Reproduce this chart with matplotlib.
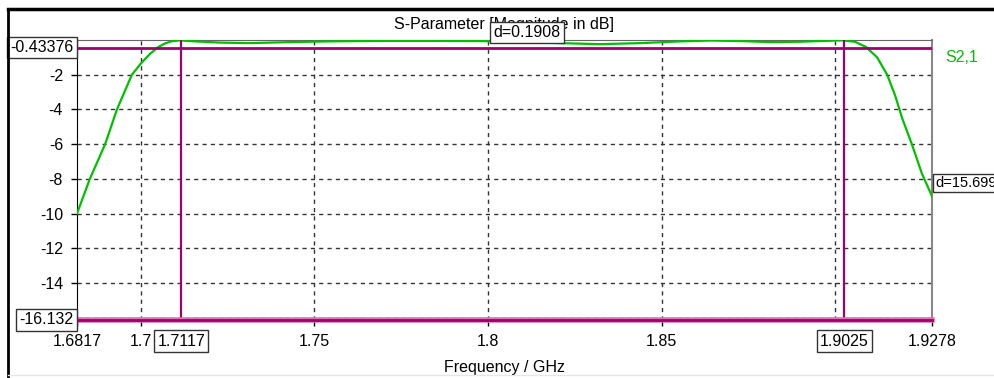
import matplotlib
matplotlib.use("Agg")
import matplotlib.pyplot as plt
from matplotlib.lines import Line2D

# S2,1 magnitude trace (GHz, dB)
freq = [1.6817, 1.6854, 1.6898, 1.6932, 1.6975, 1.7001, 1.7027, 1.7050, 1.7070,
        1.7090, 1.7113, 1.7157, 1.7229, 1.7315, 1.7430, 1.7545, 1.7690, 1.7833,
        1.7977, 1.8092, 1.8207, 1.8322, 1.8438, 1.8553, 1.8640, 1.8725, 1.8812,
        1.8898, 1.8970, 1.9020, 1.9056, 1.9088, 1.9120, 1.9149, 1.9172, 1.9192,
        1.9220, 1.9249, 1.9278]
s21 = [-10.0, -8.0, -6.0, -4.0, -2.0, -1.35, -0.80, -0.42, -0.20,
       -0.07, -0.02, -0.08, -0.15, -0.18, -0.12, -0.08, -0.05, -0.05,
       -0.06, -0.12, -0.18, -0.24, -0.18, -0.08, -0.03, -0.06, -0.12,
       -0.10, -0.05, -0.02, -0.10, -0.40, -1.00, -2.00, -3.20, -4.50,
       -6.00, -7.70, -9.00]

# Marker positions
marker_freqs = [1.7117, 1.9025]
marker_levels = [-0.43376, -16.132]
delta_top = "d=0.1908"
delta_right = "d=15.699"

xticks = [1.6817, 1.7, 1.75, 1.8, 1.85, 1.9278]
xtick_labels = ["1.6817", "1.7", "1.75", "1.8", "1.85", "1.9278"]
yticks = [-14, -12, -10, -8, -6, -4, -2]
ytick_labels = ["-14", "-12", "-10", "-8", "-6", "-4", "-2"]

GREEN = "#00c000"
MAGENTA = "#a0006a"
FS = 11.5

plt.rcParams["font.family"] = ["Liberation Sans", "DejaVu Sans"]
fig = plt.figure(figsize=(9.95, 3.78), dpi=100)
ax = fig.add_axes([77 / 995, 1 - 320 / 378, 855 / 995, 280 / 378])

ax.set_xlim(freq[0], freq[-1])
ax.set_ylim(marker_levels[1], 0)

# grid
for x in [1.7, 1.75, 1.8, 1.85, 1.9]:
    ax.axvline(x, color="#333333", lw=1, ls=(0, (3, 3)), zorder=1)
for y in yticks:
    ax.axhline(y, color="#333333", lw=1, ls=(0, (3, 3)), zorder=1)
ax.axhline(marker_levels[1] + 0.12, color="#333333", lw=1, ls=(0, (3, 3)), zorder=1)

# trace
ax.plot(freq, s21, color=GREEN, lw=1.6, zorder=3)

# markers
for f in marker_freqs:
    ax.axvline(f, color=MAGENTA, lw=1.6, zorder=4)
ax.axhline(marker_levels[0], color=MAGENTA, lw=2, zorder=4)
ax.axhline(marker_levels[1], color="#e070b0", lw=4, zorder=4, clip_on=False)
ax.axhline(marker_levels[1], color=MAGENTA, lw=2, zorder=5, clip_on=False)

ax.set_xticks(xticks)
ax.set_xticklabels(xtick_labels)
ax.set_yticks(yticks)
ax.set_yticklabels(ytick_labels)
ax.tick_params(axis="both", labelsize=FS, length=4, width=1, color="black",
               pad=6)

for side in ["left", "bottom"]:
    ax.spines[side].set_color("black")
ax.spines["top"].set_color("#666666")
ax.spines["right"].set_color("#888888")
ax.spines["right"].set_linewidth(1.5)

ax.set_xlabel("Frequency / GHz", fontsize=FS, labelpad=8)
ax.set_title("S-Parameter [Magnitude in dB]", fontsize=FS, pad=8)

box = dict(boxstyle="square,pad=0.2", fc="white", ec="#333333", lw=1)
tr_y = ax.get_yaxis_transform()
tr_x = ax.get_xaxis_transform()

ax.text(-0.004, marker_levels[0], f"{marker_levels[0]:.5f}", transform=tr_y,
        ha="right", va="center", fontsize=FS, bbox=box, zorder=10, clip_on=False)
ax.text(-0.004, marker_levels[1], f"{marker_levels[1]:.3f}", transform=tr_y,
        ha="right", va="center", fontsize=FS, bbox=box, zorder=10, clip_on=False)
for f in marker_freqs:
    ax.text(f, -0.075, f"{f:.4f}", transform=tr_x, ha="center", va="center",
            fontsize=FS, bbox=box, zorder=10, clip_on=False)
ax.text(1.8112, 1.0, delta_top, transform=tr_x, ha="center", va="bottom",
        fontsize=FS, bbox=box, zorder=10, clip_on=False)
ax.text(1.004, -8.25, delta_right, transform=tr_y, ha="left", va="center",
        fontsize=10.5, bbox=dict(boxstyle="square,pad=0.15", fc="white",
                                 ec="#333333", lw=1), zorder=10, clip_on=False)
ax.text(1.015, -1.0, "S2,1", transform=tr_y, ha="left", va="center",
        fontsize=FS, color=GREEN, clip_on=False)

# window frame
fig.add_artist(Line2D([8 / 995, 1], [1 - 9 / 378] * 2, color="black", lw=2.5))
fig.add_artist(Line2D([8 / 995] * 2, [0, 1 - 9 / 378], color="black", lw=2))
fig.add_artist(Line2D([8 / 995, 1], [3 / 378] * 2, color="#e6e6e6", lw=1))

fig.savefig("out.png", dpi=100)
